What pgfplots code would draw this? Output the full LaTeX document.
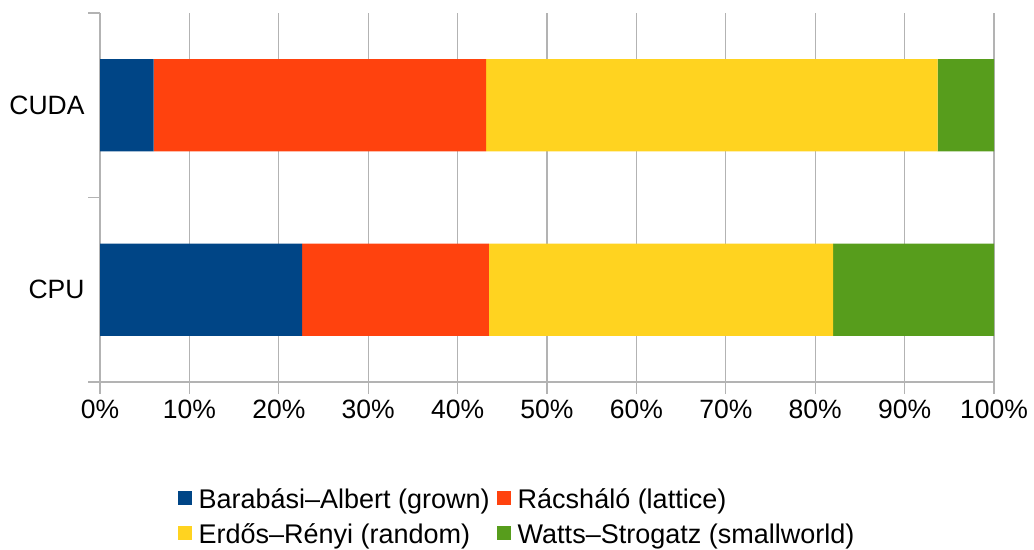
\documentclass[border=0pt]{standalone}
\usepackage{fontspec}
\setmainfont{Liberation Sans}
\usepackage{pgfplots}
\pgfplotsset{compat=1.18}

\definecolor{cBA}{HTML}{004586}
\definecolor{cLat}{HTML}{FF420E}
\definecolor{cER}{HTML}{FFD320}
\definecolor{cWS}{HTML}{579D1C}
\definecolor{gridgray}{HTML}{B3B3B3}

\begin{document}
\begin{tikzpicture}[x=1bp,y=1bp,font=\fontsize{26.5bp}{31bp}\selectfont]
\path[use as bounding box] (0,0) rectangle (1034,550);
\begin{axis}[
  at={(100bp,168bp)}, anchor=south west,
  width=894bp, height=369bp, scale only axis,
  xbar stacked, bar width=0.5,
  xmin=0, xmax=100, ymin=-0.5, ymax=1.5,
  axis x line*=bottom, axis y line*=left,
  axis line style={gridgray, line width=1.2bp},
  xtick={0,10,...,100},
  xticklabel={\pgfmathprintnumber{\tick}\%},
  /pgf/number format/assume math mode=true,
  xmajorgrids, major grid style={gridgray, line width=1.2bp},
  tick style={gridgray, line width=1.2bp},
  tick align=outside, major tick length=12bp,
  ytick={-0.5,0.5,1.5}, yticklabels={},
  extra y ticks={0,1}, extra y tick labels={CPU,CUDA},
  extra y tick style={tick style={draw=none}, grid=none},
  xticklabel style={yshift=-2bp},
  legend style={at={(0.4664,-0.365)}, anchor=center, draw=none,
    fill=none, legend columns=2, row sep=10bp,
    font=\fontsize{27bp}{32bp}\selectfont,
    /tikz/every odd column/.append style={column sep=5bp},
    /tikz/every even column/.append style={column sep=5bp}},
  legend image code/.code={\fill[#1] (0bp,-6bp) rectangle (14bp,8bp);},
  legend cell align=left,
]
% categories: 0 = CPU, 1 = CUDA
\addplot[fill=cBA, draw=none] coordinates {(22.6,0) (6.0,1)};
\addplot[fill=cLat, draw=none] coordinates {(20.9,0) (37.2,1)};
\addplot[fill=cER, draw=none] coordinates {(38.5,0) (50.5,1)};
\addplot[fill=cWS, draw=none] coordinates {(18.0,0) (6.3,1)};
\legend{Barabási–Albert (grown), Rácsháló (lattice), Erdős–Rényi (random), Watts–Strogatz (smallworld)}
\end{axis}
\end{tikzpicture}
\end{document}
